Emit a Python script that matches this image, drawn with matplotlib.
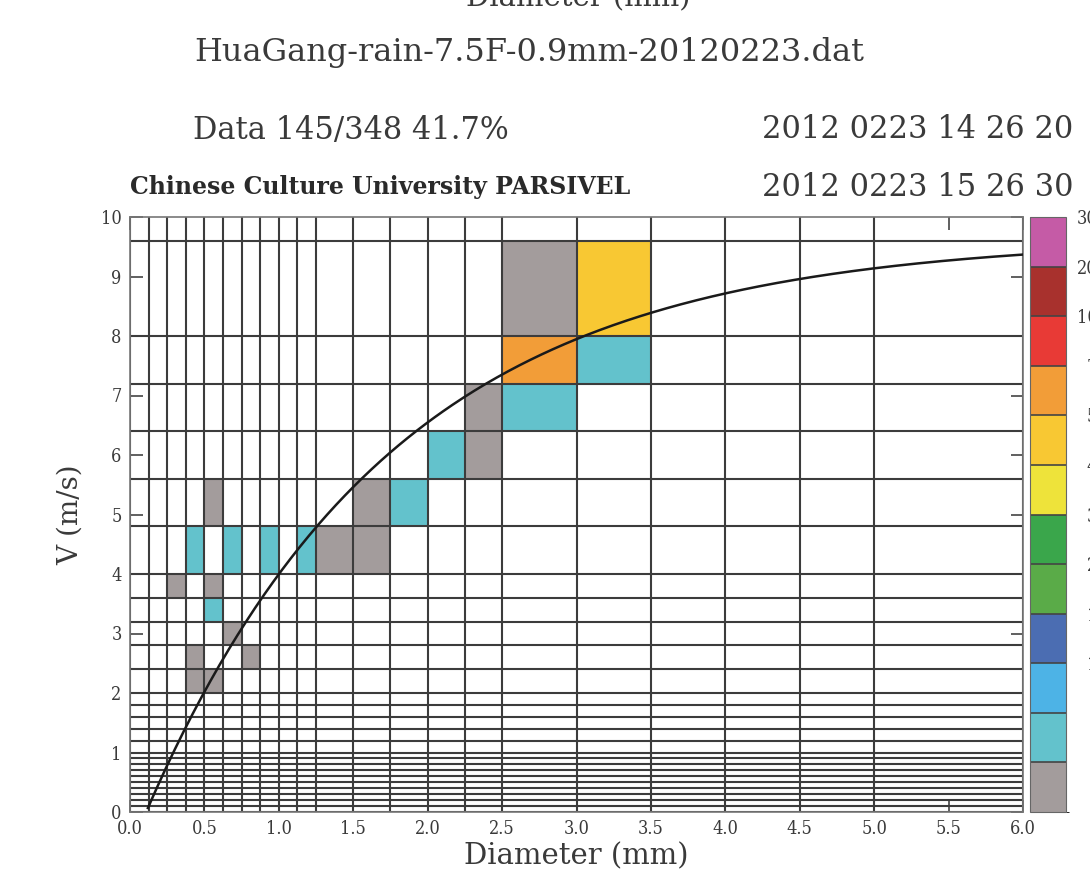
import numpy as np
import matplotlib
matplotlib.use("Agg")
import matplotlib.pyplot as plt
from matplotlib.colors import ListedColormap, BoundaryNorm

# ---------------- data ----------------
# PARSIVEL diameter / velocity class edges
diam_edges = [0.0, 0.125, 0.25, 0.375, 0.5, 0.625, 0.75, 0.875, 1.0, 1.125, 1.25,
              1.5, 1.75, 2.0, 2.25, 2.5, 3.0, 3.5, 4.0, 4.5, 5.0, 6.0]
vel_edges = [0.0, 0.1, 0.2, 0.3, 0.4, 0.5, 0.6, 0.7, 0.8, 0.9, 1.0,
             1.2, 1.4, 1.6, 1.8, 2.0, 2.4, 2.8, 3.2, 3.6, 4.0,
             4.8, 5.6, 6.4, 7.2, 8.0, 9.6, 11.2]

# occupied cells (lower diameter edge, lower velocity edge, drop count)
cell_diam = [0.25, 0.375, 0.375, 0.375, 0.5, 0.5, 0.5, 0.5, 0.625, 0.625, 0.75,
             0.875, 1.125, 1.25, 1.5, 1.5, 1.75, 2.0, 2.25, 2.25, 2.5, 2.5, 2.5,
             3.0, 3.0]
cell_vel = [3.6, 4.0, 2.4, 2.0, 4.8, 3.6, 3.2, 2.0, 4.0, 2.8, 2.4,
            4.0, 4.0, 4.0, 4.0, 4.8, 4.8, 5.6, 5.6, 6.4, 6.4, 7.2, 8.0,
            7.2, 8.0]
cell_count = [1, 3, 1, 1, 1, 1, 3, 1, 3, 1, 1,
              3, 3, 1, 1, 1, 3, 3, 1, 1, 3, 55, 1,
              3, 45]

# colour levels
count_levels = [1, 2, 5, 10, 15, 20, 30, 40, 50, 70, 100, 200, 300]
level_colors = ['#a39c9c', '#63c2cc', '#4db3e6', '#4b6db2', '#5aab48', '#3aa64b',
                '#eee33a', '#f8c833', '#f29d38', '#e83a36', '#a8312d', '#c55ba6']

# Atlas et al. (1973) terminal velocity relation v = a - b*exp(-c*D)
atlas_a, atlas_b, atlas_c = 9.65, 10.3, 0.6

x_ticks = [0.0, 0.5, 1.0, 1.5, 2.0, 2.5, 3.0, 3.5, 4.0, 4.5, 5.0, 5.5, 6.0]
y_ticks = [0, 1, 2, 3, 4, 5, 6, 7, 8, 9, 10]

title_file = "HuaGang-rain-7.5F-0.9mm-20120223.dat"
info_left1 = "Data 145/348 41.7%"
info_right1 = "2012 0223 14 26 20"
info_left2 = "Chinese Culture University PARSIVEL"
info_right2 = "2012 0223 15 26 30"

# ---------------- figure ----------------
W, H = 1090, 883
fig = plt.figure(figsize=(W / 100, H / 100), dpi=100)
cond = dict(family='DejaVu Serif', stretch='condensed')
norm_f = dict(family='DejaVu Serif')
txt_col = '#3a3a3a'

def px(x0, y0, x1, y1):
    return [x0 / W, 1 - y1 / H, (x1 - x0) / W, (y1 - y0) / H]

ax = fig.add_axes(px(130, 217, 1023, 812))

de = np.array(diam_edges)
ve = np.array(vel_edges)
grid = np.full((len(ve) - 1, len(de) - 1), np.nan)
for d, v, c in zip(cell_diam, cell_vel, cell_count):
    i = np.searchsorted(ve, v + 1e-6) - 1
    j = np.searchsorted(de, d + 1e-6) - 1
    grid[i, j] = c
cmap = ListedColormap(level_colors)
norm = BoundaryNorm(count_levels, cmap.N)
mesh = ax.pcolormesh(de, ve, np.ma.masked_invalid(grid), cmap=cmap, norm=norm,
                     shading='flat', zorder=1)

line_col = '#3c3c3c'
ax.vlines(de, 0, 10, colors=line_col, lw=1.5, zorder=2)
ax.hlines(ve[ve <= 10], 0, 6, colors=line_col, lw=1.5, zorder=2)

dd = np.linspace(0, 6, 400)
vv = atlas_a - atlas_b * np.exp(-atlas_c * dd)
ok = vv >= 0
ax.plot(dd[ok], vv[ok], color='#1a1a1a', lw=1.8, zorder=3)

ax.set_xlim(0, 6)
ax.set_ylim(0, 10)
ax.set_xticks(x_ticks)
ax.set_xticklabels([f"{t:.1f}" for t in x_ticks], **cond, fontsize=13, color=txt_col)
ax.set_yticks(y_ticks)
ax.set_yticklabels([str(t) for t in y_ticks], **cond, fontsize=13, color=txt_col)
ax.tick_params(direction='in', length=9, width=1.2, color='#444444',
               top=True, right=True, pad=6)
for s in ax.spines.values():
    s.set_color('#777777')
    s.set_linewidth(1.2)
ax.set_xlabel("Diameter (mm)", **norm_f, fontsize=21, color=txt_col, labelpad=3)
ax.set_ylabel("V (m/s)", **norm_f, fontsize=20, color=txt_col, labelpad=12)

# colorbar
cax = fig.add_axes(px(1030, 217, 1066, 812))
cb = fig.colorbar(mesh, cax=cax, spacing='uniform', drawedges=True)
cb.set_ticks(count_levels[1:])
cb.set_ticklabels([str(v) for v in count_levels[1:]])
cb.outline.set_edgecolor('#666666')
cb.dividers.set_color('#444444')
cb.dividers.set_linewidth(1.2)
cax.tick_params(length=0, pad=30)
for lab in cax.get_yticklabels():
    lab.set_horizontalalignment('right')
    lab.set_fontsize(13)
    lab.set_family('DejaVu Serif')
    lab.set_stretch('condensed')
    lab.set_color(txt_col)

# header texts
fig.text(578 / W, 1 - 6 / H, "Diameter (mm)", **norm_f, fontsize=21, color=txt_col,
         ha='center', va='baseline')
fig.text(529 / W, 1 - 52 / H, title_file, **norm_f, fontsize=23, color=txt_col,
         ha='center', va='center')
fig.text(193 / W, 1 - 130 / H, info_left1, **norm_f, fontsize=22, color=txt_col,
         ha='left', va='center')
fig.text(1073 / W, 1 - 130 / H, info_right1, **norm_f, fontsize=22, color=txt_col,
         ha='right', va='center')
fig.text(130 / W, 1 - 187 / H, info_left2, **norm_f, fontsize=17, color='#2a2a2a',
         ha='left', va='center', weight='bold')
fig.text(1073 / W, 1 - 187 / H, info_right2, **norm_f, fontsize=22, color=txt_col,
         ha='right', va='center')

fig.savefig("out.png", dpi=100, facecolor='white')
